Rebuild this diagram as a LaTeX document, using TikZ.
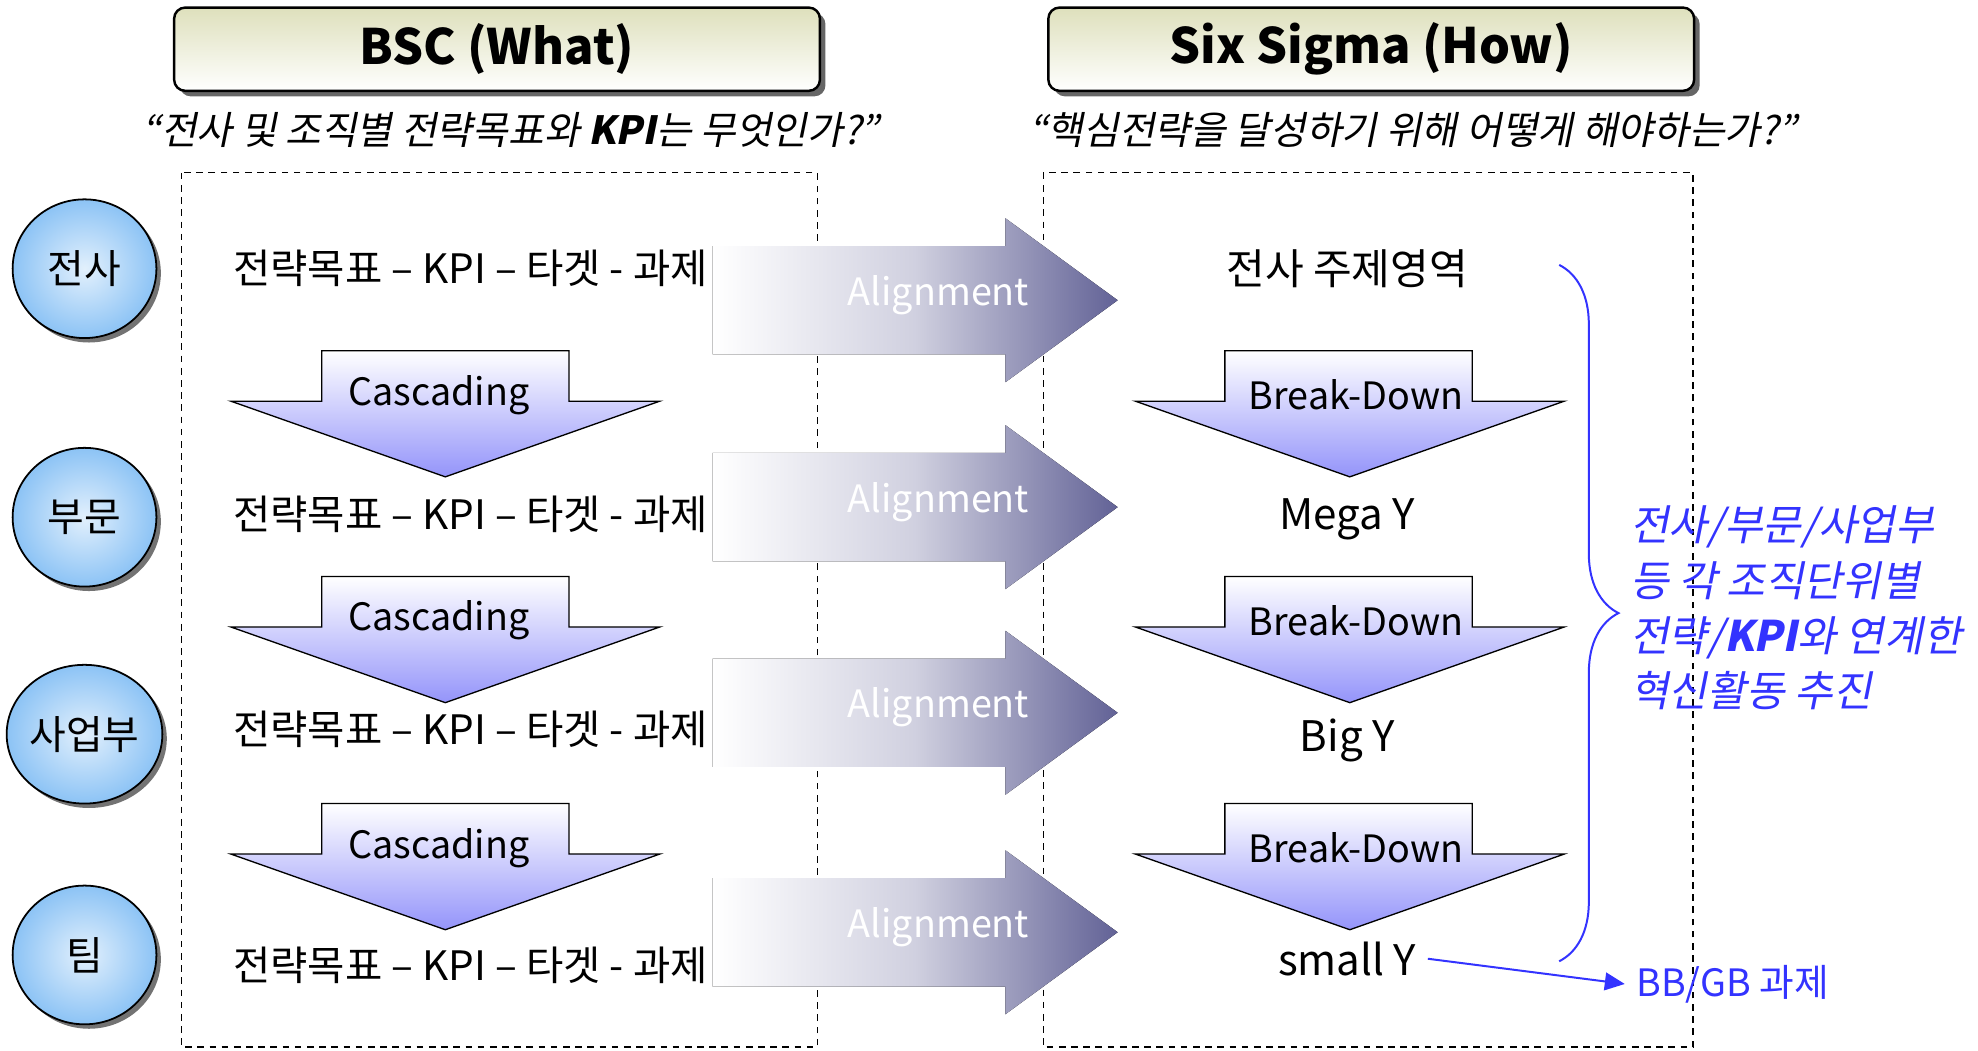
\documentclass[tikz,border=0pt]{standalone}
\usepackage{fontspec}
\setmainfont{Noto Sans CJK KR}
\newfontfamily\krit[FakeSlant=0.2]{Noto Sans CJK KR}
\usetikzlibrary{shapes, arrows.meta, positioning, calc, decorations.pathreplacing, shadows}
\definecolor{hdrtop}{RGB}{222, 224, 188}
\definecolor{circblue}{RGB}{140, 195, 245}
\definecolor{downblue}{RGB}{148, 148, 250}
\definecolor{alnblue}{RGB}{98, 98, 150}
\definecolor{noteblue}{RGB}{51, 51, 255}
\tikzset{
  header/.style={draw=black, line width=1.1pt, rounded corners=5pt, top color=hdrtop, bottom color=white,
    minimum width=10.24cm, minimum height=1.32cm, font=\fontsize{22}{26}\selectfont\bfseries,
    drop shadow={shadow xshift=2.5pt, shadow yshift=-2.5pt, fill=black!60, opacity=1}},
  subtitle/.style={font=\krit\fontsize{17.5}{21}\selectfont},
  level/.style={ellipse, draw=black, line width=0.8pt, inner color=white!75!circblue, outer color=circblue,
    minimum width=2.28cm, minimum height=2.2cm, inner sep=0pt, font=\fontsize{18}{21}\selectfont,
    drop shadow={shadow xshift=2pt, shadow yshift=-2pt, fill=black!55, opacity=1}},
  dashbox/.style={draw=black, line width=0.6pt, dash pattern=on 3pt off 2.5pt},
  rowtxt/.style={font=\fontsize{19}{23}\selectfont, inner sep=5pt},
  downarr/.style={draw=black, line width=0.6pt, top color=white, bottom color=downblue},
  downlbl/.style={font=\fontsize{17}{20}\selectfont},
  alnarr/.style={left color=white, right color=alnblue, middle color=white!70!alnblue},
  alnlbl/.style={text=white, font=\fontsize{17}{20}\selectfont},
  note/.style={text=noteblue, font=\krit\fontsize{19}{25}\selectfont, align=left},
  notearr/.style={noteblue, line width=0.9pt, -{Triangle[length=9pt, width=8pt]}}
}

\begin{document}
\begin{tikzpicture}[x=0.02cm, y=-0.02cm]
  \useasboundingbox (0,0) rectangle (1568,833);

  \draw[dashbox] (144,137) rectangle (648,830);
  \draw[dashbox] (827,137) rectangle (1342,830);

  \node[header] (bsc) at (394,39) {BSC (What)};
  \node[header] (six) at (1087,39) {Six Sigma (How)};
  \node[subtitle] (q1) at (405,103) {“전사 및 조직별 전략목표와 {\bfseries KPI}는 무엇인가?”};
  \node[subtitle] (q2) at (1120,103) {“핵심전략을 달성하기 위해 어떻게 해야하는가?”};

  \foreach \c [count=\i] in {238,402,565,739} {
    \fill[alnarr] (565,\c-43) -- (797,\c-43) -- (797,\c-65) -- (886,\c) -- (797,\c+65) -- (797,\c+43) -- (565,\c+43) -- cycle;
    \node[alnlbl] (aln\i) at (744,\c-4) {Alignment};
  }

  \foreach \t [count=\i] in {278,457,637} {
    \draw[downarr] (255,\t) -- (451,\t) -- (451,\t+40) -- (523,\t+40) -- (353,\t+100) -- (183,\t+40) -- (255,\t+40) -- cycle;
    \node[downlbl] (casc\i) at (348,\t+35) {Cascading};
    \draw[downarr] (971,\t) -- (1167,\t) -- (1167,\t+40) -- (1240,\t+40) -- (1070,\t+100) -- (900,\t+40) -- (971,\t+40) -- cycle;
    \node[downlbl] (brk\i) at (1075,\t+35) {Break-Down};
  }

  \node[level] (co) at (67,213) {전사};
  \node[level] (div) at (67,410) {부문};
  \node[level] (bu) at (67,582) {사업부};
  \node[level] (team) at (67,757) {팀};

  \foreach \y [count=\i] in {213,408,578,765}
    \node[rowtxt, font=\fontsize{18.3}{22}\selectfont] (lt\i) at (373,\y) {전략목표 – KPI – 타겟 - 과제};

  \node[rowtxt] (rt1) at (1068,213) {전사 주제영역};
  \node[rowtxt] (rt2) at (1068,412) {Mega Y};
  \node[rowtxt] (rt3) at (1068,587) {Big Y};
  \node[rowtxt] (smally) at (1068,760) {small Y};

  \coordinate (brtop) at (1236,210);
  \coordinate (brbot) at (1236,762);
  \draw[noteblue, line width=0.9pt, decorate, decoration={brace, amplitude=0.94cm}] (brtop) -- (brbot);
  \node[note, anchor=west] (goal) at (1286,482) {전사/부문/사업부\\등 각 조직단위별\\전략/{\bfseries KPI}와 연계한\\혁신활동 추진};

  \node[text=noteblue, font=\fontsize{17}{20}\selectfont, anchor=west, inner sep=5pt] (bbgb) at (1288,780) {BB/GB 과제};
  \draw[notearr] (smally.east) -- (bbgb.west);
\end{tikzpicture}
\end{document}
